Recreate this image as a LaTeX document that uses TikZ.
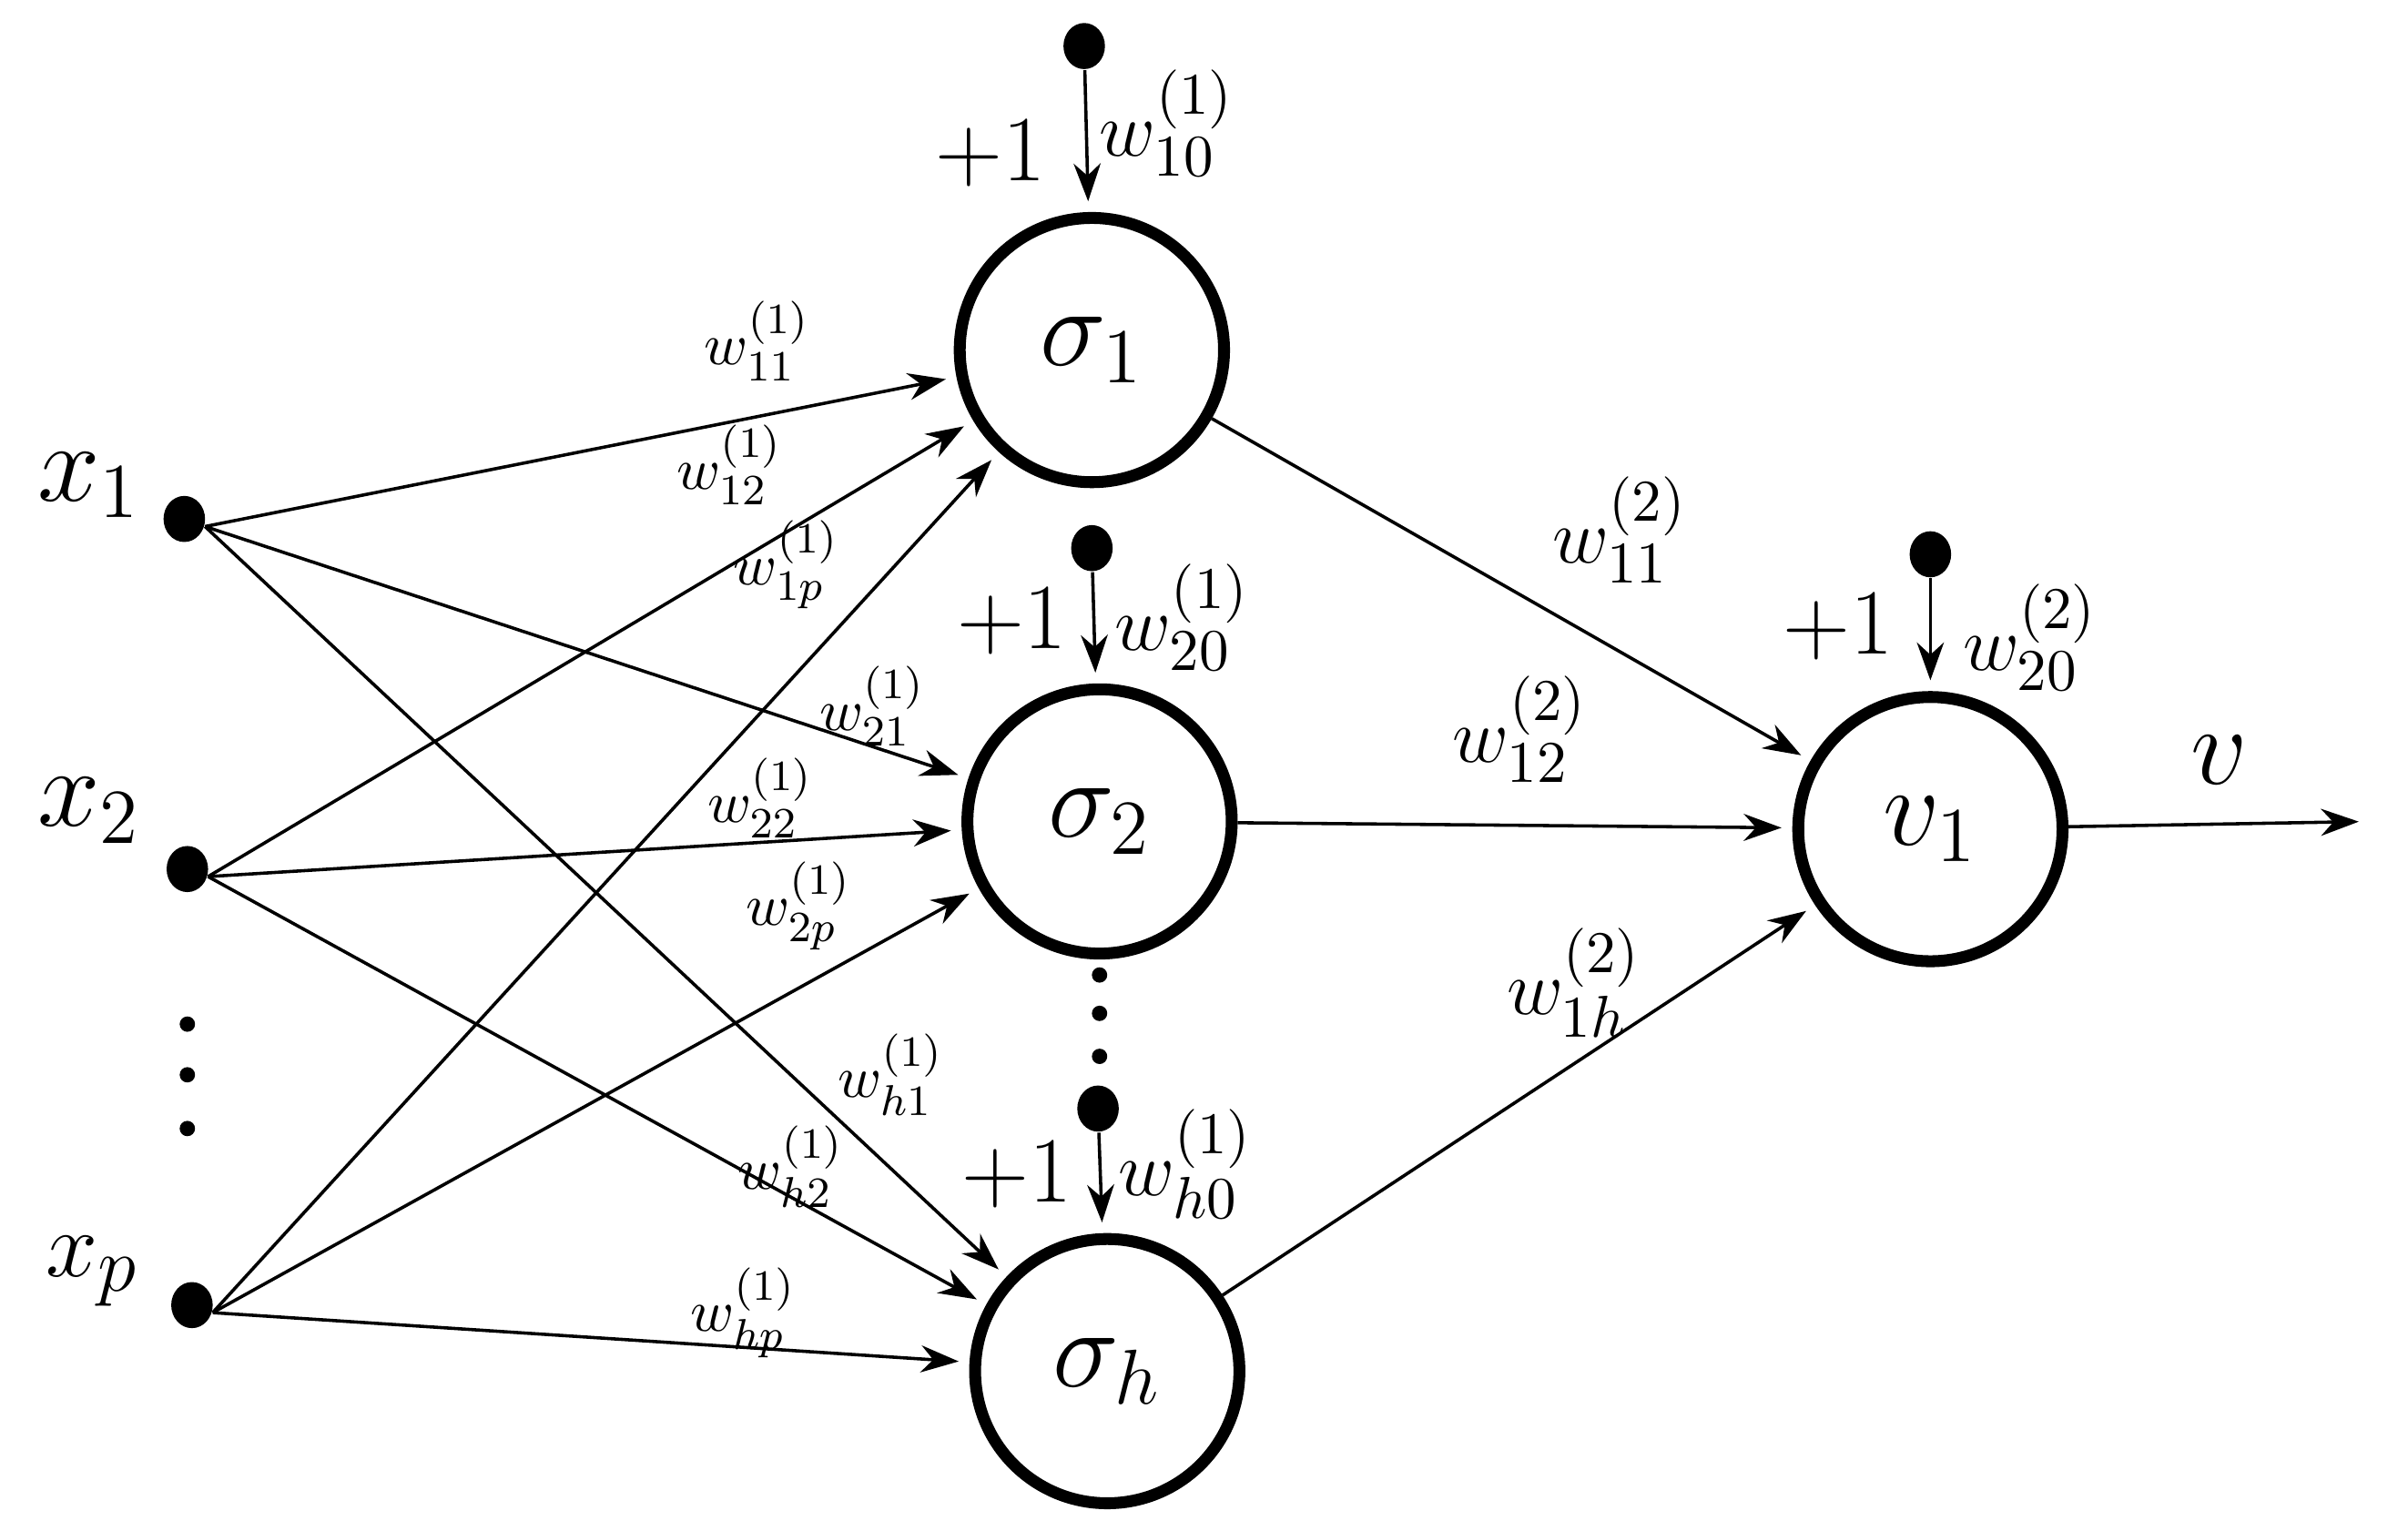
\documentclass[tikz,border=0pt]{standalone}
\usetikzlibrary{arrows.meta,shapes.geometric}
\begin{document}
\begin{tikzpicture}[x=0.01cm,y=-0.01cm,
 neuron/.style={circle,draw,line width=2.2pt,minimum size=1.72cm,inner sep=0pt,font=\fontsize{21}{25}\selectfont},
 dot/.style={ellipse,fill,minimum width=0.27cm,minimum height=0.3cm,inner sep=0pt},
 sdot/.style={circle,fill,minimum size=0.1cm,inner sep=0pt},
 edge/.style={line width=0.6pt,-{Stealth[length=7pt,width=5pt]},shorten >=2pt},
 big/.style={font=\fontsize{19}{23}\selectfont},
 lab/.style={font=\fontsize{22}{26}\selectfont},
 mid/.style={font=\fontsize{15}{18}\selectfont},
 sm/.style={font=\fontsize{11}{13}\selectfont}]
\useasboundingbox (0,0) rectangle (1568,997);
\node[dot] (x1) at (120,338) {};
\node[dot] (x2) at (122,566) {};
\node[dot] (xp) at (125,850) {};
\node[sdot] (d1) at (122,667) {};
\node[sdot] (d2) at (122,700) {};
\node[sdot] (d3) at (122,735) {};
\node[lab] (lx1) at (58,316) {$x_1$};
\node[lab] (lx2) at (58,528) {$x_2$};
\node[big] (lxp) at (60,828) {$x_p$};
\node[neuron] (s1) at (711,228) {$\sigma_1$};
\node[neuron] (s2) at (716,535) {$\sigma_2$};
\node[neuron] (sh) at (721,893) {$\sigma_h$};
\node[neuron] (v1) at (1257,540) {$v_1$};
\node[dot] (b1) at (706,30) {};
\node[dot] (b2) at (711,357) {};
\node[dot] (bh) at (715,722) {};
\node[dot] (bv) at (1257,361) {};
\node[sdot] (e1) at (716,635) {};
\node[sdot] (e2) at (716,660) {};
\node[sdot] (e3) at (716,688) {};
\node[big] (p1) at (645,100) {$+1$};
\node[big] (p2) at (659,405) {$+1$};
\node[big] (ph) at (662,765) {$+1$};
\node[big] (pv) at (1197,408) {$+1$};
\node[mid] (w10) at (760,80) {$w^{(1)}_{10}$};
\node[mid] (w20) at (770,402) {$w^{(1)}_{20}$};
\node[mid] (wh0) at (772,758) {$w^{(1)}_{h0}$};
\node[mid] (w20b) at (1322,415) {$w^{(2)}_{20}$};
\node[lab] (lv) at (1445,495) {$v$};
\coordinate (out) at (1543,535);
\draw[edge] (b1) -- (s1);
\draw[edge] (b2) -- (s2);
\draw[edge] (bh) -- (sh);
\draw[edge] (bv) -- (v1);
\draw[edge] (v1) -- (out);
\foreach \a in {x1,x2,xp}{\foreach \b in {s1,s2,sh}{\draw[edge] (\a.-20) -- (\b);}}
\foreach \b in {s1,s2,sh}{\draw[edge] (\b) -- (v1);}
\node[sm] at (493,222) {$w^{(1)}_{11}$};
\node[sm] at (475,303) {$w^{(1)}_{12}$};
\node[sm] at (512,368) {$w^{(1)}_{1p}$};
\node[sm] at (568,460) {$w^{(1)}_{21}$};
\node[sm] at (495,520) {$w^{(1)}_{22}$};
\node[sm] at (520,590) {$w^{(1)}_{2p}$};
\node[sm] at (580,700) {$w^{(1)}_{h1}$};
\node[sm] at (515,760) {$w^{(1)}_{h2}$};
\node[sm] at (484,855) {$w^{(1)}_{hp}$};
\node[mid] at (1055,345) {$w^{(2)}_{11}$};
\node[mid] at (990,475) {$w^{(2)}_{12}$};
\node[mid] at (1025,640) {$w^{(2)}_{1h}$};
\end{tikzpicture}
\end{document}
